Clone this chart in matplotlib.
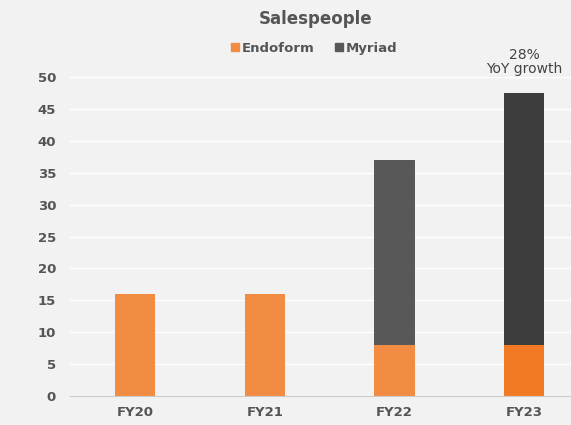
import matplotlib
matplotlib.use("Agg")
import matplotlib.pyplot as plt
from matplotlib.patches import Patch

categories = ["FY20", "FY21", "FY22", "FY23"]
endoform = [16, 16, 8, 8]
myriad = [0, 0, 29, 39.5]
yticks = [0, 5, 10, 15, 20, 25, 30, 35, 40, 45, 50]

bg = "#f2f2f2"
txt = "#555555"
orange = ["#f28c43", "#f28c43", "#f28c43", "#f27a25"]
grays = ["#585858", "#585858", "#585858", "#3d3d3d"]

plt.rcParams["font.family"] = ["DejaVu Sans"]
fig = plt.figure(figsize=(5.71, 4.25), dpi=100, facecolor=bg)
ax = fig.add_axes([0.1226, 0.0682, 0.8774, 0.7506], facecolor=bg)

x = list(range(len(categories)))
ax.bar(x, endoform, width=0.31, color=orange, zorder=3)
ax.bar(x, myriad, width=0.31, bottom=endoform, color=grays, zorder=3)

ax.set_xlim(-0.5, 3.36)
ax.set_ylim(0, 50)
ax.set_yticks(yticks)
ax.set_xticks(x)
ax.set_xticklabels(categories)
ax.grid(axis="y", color="white", linewidth=1.0, zorder=0)
for s in ["top", "right", "left"]:
    ax.spines[s].set_visible(False)
ax.spines["bottom"].set_color("#cccccc")
ax.spines["bottom"].set_zorder(4)
ax.tick_params(length=0, colors=txt, labelsize=9.5)
for lab in ax.get_xticklabels() + ax.get_yticklabels():
    lab.set_fontweight("bold")
ax.tick_params(axis="y", pad=10)
ax.tick_params(axis="x", pad=7)

fig.text(0.553, 0.955, "Salespeople", ha="center", va="center", fontsize=12,
         fontweight="bold", color=txt)
handles = [Patch(color="#f28c43", label="Endoform"), Patch(color="#585858", label="Myriad")]
fig.legend(handles=handles, loc="center", bbox_to_anchor=(0.55, 0.887), ncol=2, frameon=False,
           handlelength=0.6, handleheight=0.6, handletextpad=0.2, columnspacing=1.6,
           labelcolor=txt, prop={"weight": "bold", "size": 9.5})

total23 = endoform[3] + myriad[3]
ax.text(3, total23 + 2.6, "28%\nYoY growth", ha="center", va="bottom", fontsize=10,
        color="#444444", linespacing=1.05, clip_on=False)

fig.savefig("out.png", dpi=100, facecolor=bg)
